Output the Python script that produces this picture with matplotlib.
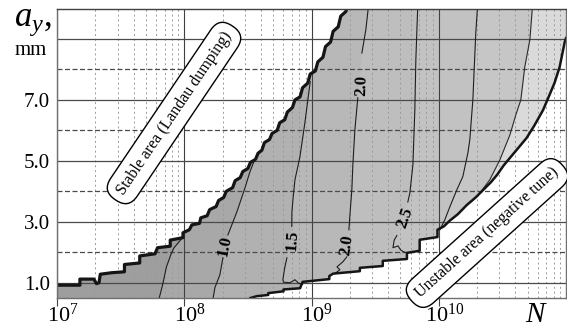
import numpy as np
import matplotlib
matplotlib.use("Agg")
import matplotlib.pyplot as plt
import matplotlib.ticker as ticker
from matplotlib.transforms import ScaledTranslation

plt.rcParams['font.family'] = 'Liberation Serif'
plt.rcParams['mathtext.fontset'] = 'custom'
plt.rcParams['mathtext.rm'] = 'Liberation Serif'
plt.rcParams['mathtext.it'] = 'Liberation Serif:italic'

nan = np.nan

# boundary of the stable (Landau damping) area: log10(N), a_y [mm]
stable_logn = [7.00, 7.18, 7.18, 7.29, 7.31, 7.33, 7.34, 7.43, 7.53, 7.53,
               7.65, 7.65, 7.77, 7.79, 7.89, 7.89, 7.99, 7.99, 8.04, 8.06,
               8.12, 8.13, 8.18, 8.20, 8.25, 8.27, 8.31, 8.33, 8.38, 8.40,
               8.44, 8.46, 8.50, 8.52, 8.56, 8.58, 8.61, 8.63, 8.67, 8.69,
               8.73, 8.75, 8.79, 8.81, 8.85, 8.87, 8.91, 8.93, 8.97, 8.99,
               9.03, 9.05, 9.09, 9.11, 9.15, 9.17, 9.21, 9.23, 9.27, 9.29]
stable_a = [0.92, 0.92, 1.12, 1.12, 0.97, 1.00, 1.28, 1.33, 1.36, 1.60,
            1.65, 1.88, 1.95, 2.15, 2.20, 2.40, 2.48, 2.64, 2.74, 2.90,
            2.95, 3.13, 3.20, 3.40, 3.50, 3.70, 3.80, 4.00, 4.12, 4.35,
            4.45, 4.65, 4.75, 4.95, 5.05, 5.25, 5.35, 5.60, 5.70, 5.90,
            6.00, 6.25, 6.35, 6.60, 6.75, 7.00, 7.10, 7.40, 7.55, 7.85,
            7.95, 8.25, 8.40, 8.75, 8.90, 9.25, 9.40, 9.75, 9.90, 10.2]

# boundary of the unstable area (negative tune)
unstable_logn = [8.52, 8.57, 8.66, 8.66, 8.78, 8.78, 8.91, 8.93, 9.14, 9.14,
                 9.17, 9.38, 9.38, 9.56, 9.56, 9.75, 9.75, 9.85, 9.85, 9.99,
                 9.99, 10.04, 10.09, 10.15, 10.22, 10.29, 10.35, 10.41, 10.46, 10.51,
                 10.56, 10.62, 10.69, 10.75, 10.82, 10.87, 10.91, 10.95, 10.99, 11.0]
unstable_a = [0.50, 0.56, 0.60, 0.66, 0.72, 0.78, 0.82, 1.03, 1.12, 1.22,
              1.30, 1.38, 1.49, 1.55, 1.72, 1.78, 1.98, 2.05, 2.41, 2.50,
              2.74, 2.85, 3.05, 3.25, 3.55, 3.80, 4.05, 4.30, 4.55, 4.85,
              5.10, 5.40, 5.75, 6.15, 6.67, 7.16, 7.56, 8.08, 8.90, 9.03]

# contour lines (nan = gap for the label)
c05_logn = [7.80, 7.83, 7.86, 7.90, 7.92, 7.98]
c05_a = [0.45, 0.93, 1.52, 1.98, 2.15, 2.45]
c10_logn = [8.225, 8.241, 8.280, 8.304, nan, 8.343, 8.414, 8.477, 8.516, 8.55]
c10_a = [0.45, 0.84, 1.26, 1.82, nan, 2.57, 3.33, 4.11, 4.64, 5.00]
c15_logn = [8.93, 8.90, 8.87, 8.83, 8.78, 8.775, 8.79, 8.807, nan,
            8.845, 8.846, 8.854, 8.870, 8.909, 8.948, 8.99]
c15_a = [0.95, 0.98, 1.10, 1.00, 1.02, 1.10, 1.50, 1.82, nan,
         2.85, 3.30, 3.72, 4.38, 5.13, 6.25, 7.60]
c20_logn = [9.184, 9.223, 9.200, 9.247, 9.278, nan, 9.294, 9.302, 9.317,
            9.325, 9.341, 9.364, nan, 9.396, 9.427, 9.451]
c20_a = [1.30, 1.43, 1.52, 1.69, 1.85, nan, 2.74, 3.23, 4.05,
         4.87, 6.02, 7.07, nan, 8.54, 9.30, 10.2]
c25_logn = [9.75, 9.72, 9.70, 9.68, 9.64, 9.65, 9.671, nan,
            9.757, 9.773, 9.797, 9.812, 9.820, 9.836]
c25_a = [1.98, 2.02, 2.08, 2.21, 2.15, 2.40, 2.55, nan,
         3.65, 3.95, 4.87, 6.67, 8.31, 10.2]
c30_logn = [10.009, 10.048, 10.087, 10.142, 10.189, 10.229, 10.244, 10.268, 10.291, 10.307]
c30_a = [2.74, 3.07, 3.49, 4.05, 4.48, 5.26, 5.69, 7.00, 9.20, 10.2]
outer_logn = [10.244, 10.307, 10.401, 10.480, 10.559, 10.606, 10.645, 10.676, 10.716, 10.739]
outer_a = [3.62, 3.85, 4.38, 5.03, 5.85, 6.51, 7.00, 8.08, 8.97, 10.2]

# contour labels: text, log10(N), a_y, rotation
clabels = [("1.0", 8.32, 2.22, 78), ("1.5", 8.846, 2.38, 86),
           ("2.0", 9.280, 2.25, 82), ("2.0", 9.396, 7.49, 88),
           ("2.5", 9.734, 3.13, 70)]

lines = [(c05_logn, c05_a), (c10_logn, c10_a), (c15_logn, c15_a),
         (c20_logn, c20_a), (c25_logn, c25_a), (c30_logn, c30_a),
         (outer_logn, outer_a)]
shades = ['#a8a8a8', '#b1b1b1', '#b8b8b8', '#bebebe', '#c2c2c2', '#c6c6c6', '#dadada']


def right_of(logn, a):
    xs = [x for x in logn if not np.isnan(x)]
    ys = [y for y in a if not np.isnan(y)]
    px = xs + [xs[-1], 11.5, 11.5, xs[0]]
    py = ys + [10.8, 10.8, 0.2, 0.2]
    return np.power(10.0, px), py


fig = plt.figure(figsize=(5.67, 3.29), dpi=100)
ax = fig.add_axes([57 / 567, 31 / 329, 509 / 567, 289.5 / 329])
ax.set_xscale('log')
ax.set_xlim(1e7, 1e11)
ax.set_ylim(0.5, 10)
ax.set_facecolor('#9e9e9e')

for (ln, aa), col in zip(lines, shades):
    fx, fy = right_of(ln, aa)
    ax.fill(fx, fy, color=col, lw=0, zorder=1)

ax.fill_between(np.power(10.0, stable_logn), stable_a, 10.8, color='white', lw=0, zorder=2)
ax.fill_between(np.power(10.0, unstable_logn), 0.2, unstable_a, color='white', lw=0, zorder=2)

# grid
for lev in [1, 3, 5, 7, 9]:
    ax.axhline(lev, color='#4a4a4a', lw=0.9, zorder=3)
for lev in [2, 4, 6, 8]:
    ax.axhline(lev, color='#4a4a4a', lw=0.9, ls=(0, (4, 2)), zorder=3)
ax.xaxis.set_minor_locator(ticker.LogLocator(base=10, subs=np.arange(2, 10), numticks=20))
ax.xaxis.set_minor_formatter(ticker.NullFormatter())
ax.grid(True, which='major', axis='x', color='#404040', lw=0.8, zorder=3)
ax.grid(True, which='minor', axis='x', color='#999999', lw=0.7, ls=(0, (2, 3)), zorder=3)
ax.set_axisbelow(False)

# contour lines and boundaries
for ln, aa in lines[:-1]:
    ax.plot(np.power(10.0, ln), aa, color='#1e1e1e', lw=0.8, zorder=4)
ax.plot(np.power(10.0, outer_logn), outer_a, color='#2a2a2a', lw=0.8, zorder=4)
ax.plot(np.power(10.0, stable_logn), stable_a, color='#151515', lw=2.3, zorder=5)
ax.plot(np.power(10.0, unstable_logn), unstable_a, color='#151515', lw=1.8, zorder=5)

for txt, ln, aa, rot in clabels:
    ax.text(10 ** ln, aa, txt, rotation=rot, ha='center', va='center',
            fontsize=12, fontweight='bold', zorder=6)

# area labels
box = dict(boxstyle='round,pad=0.5,rounding_size=0.95', fc='white', ec='black', lw=1.0)
fig.text(174 / 567, 1 - 113 / 329, 'Stable area (Landau dumping)', rotation=56,
         ha='center', va='center', rotation_mode='anchor', fontsize=11.5, bbox=box, zorder=7)
fig.text(487 / 567, 1 - 233 / 329, 'Unstable area (negative tune)', rotation=42,
         ha='center', va='center', rotation_mode='anchor', fontsize=11.5, bbox=box, zorder=7)

# ticks
ax.set_yticks([1, 3, 5, 7])
ax.set_yticklabels(['1.0', '3.0', '5.0', '7.0'])
ax.tick_params(axis='y', length=0, pad=5, labelsize=15)
ax.set_xticks([1e7, 1e8, 1e9, 1e10])
ax.set_xticklabels([r'$10^{7}$', r'$10^{8}$', r'$10^{9}$', r'$10^{10}$'])
ax.tick_params(axis='x', which='major', length=6, width=0.8, color='#404040', pad=-2, labelsize=16)
ax.tick_params(axis='x', which='minor', length=0)
shift = ScaledTranslation(4 / 72, 0, fig.dpi_scale_trans)
for lab in ax.get_xticklabels():
    lab.set_transform(lab.get_transform() + shift)

for sp in ax.spines.values():
    sp.set_color('#707070')
    sp.set_linewidth(1.0)
    sp.set_zorder(6)
ax.spines['top'].set_color('#404040')

fig.text(14 / 567, 1 - 26 / 329, r'$a_y$,', fontsize=25, va='baseline')
fig.text(15 / 567, 1 - 55 / 329, 'mm', fontsize=15, va='baseline')
fig.text(525 / 567, 7 / 329, 'N', fontsize=21, fontstyle='italic', va='baseline')

fig.savefig('out.png', dpi=100)
